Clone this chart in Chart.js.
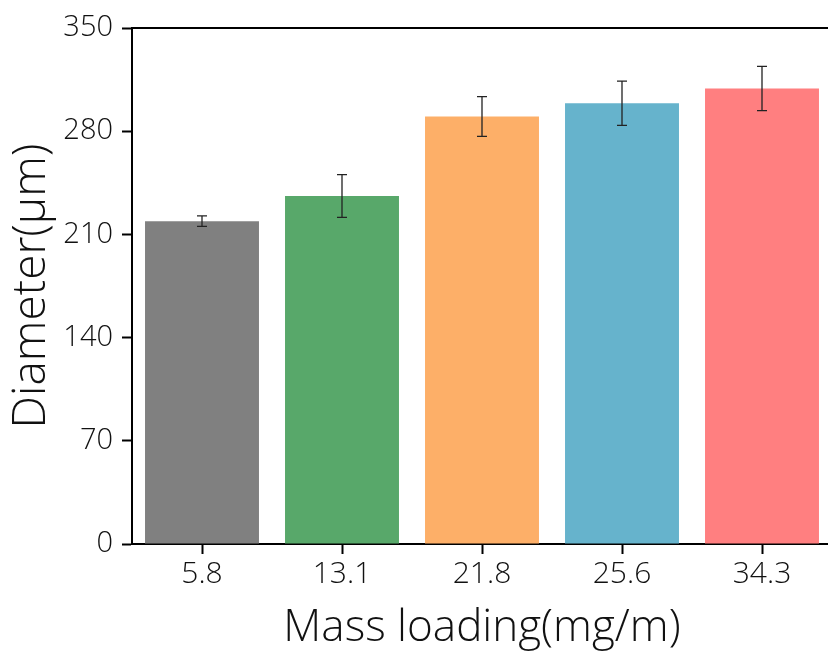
<!DOCTYPE html>
<html>
<head>
<meta charset="utf-8">
<script src="https://cdn.jsdelivr.net/npm/chart.js@4/dist/chart.umd.min.js"></script>
<style>
    html, body { margin: 0; padding: 0; background: #fff; overflow: hidden; }
    #wrap { width: 840px; height: 655px; }
</style>
</head>
<body>
<div id="wrap"><canvas id="diameter-chart"></canvas></div>
<script>
// Diamètre des fibres selon la charge massique
const massLoading = ['5.8', '13.1', '21.8', '25.6', '34.3'];
const diameter = [219, 236, 290, 299, 309];
const diameterErr = [3.5, 14.5, 13.5, 15, 15];
const barColors = ['#808080', '#58A86A', '#FDAF68', '#66B3CC', '#FF7F80'];
const yTicks = [0, 70, 140, 210, 280, 350];

const fontFamily = '"Open Sans", sans-serif';

// Barres d'erreur dessinées à partir des échelles du graphique
const errorBars = {
    id: 'errorBars',
    afterDatasetsDraw(chart) {
        const ctx = chart.ctx;
        const yScale = chart.scales.y;
        const meta = chart.getDatasetMeta(0);
        ctx.save();
        ctx.strokeStyle = '#222222';
        ctx.lineWidth = 1.3;
        meta.data.forEach((bar, i) => {
            const x = bar.x;
            const yHaut = yScale.getPixelForValue(diameter[i] + diameterErr[i]);
            const yBas = yScale.getPixelForValue(diameter[i] - diameterErr[i]);
            ctx.beginPath();
            ctx.moveTo(x, yHaut);
            ctx.lineTo(x, yBas);
            ctx.moveTo(x - 5, yHaut);
            ctx.lineTo(x + 5, yHaut);
            ctx.moveTo(x - 5, yBas);
            ctx.lineTo(x + 5, yBas);
            ctx.stroke();
        });
        ctx.restore();
    }
};

const ctx = document.getElementById('diameter-chart').getContext('2d');
new Chart(ctx, {
    type: 'bar',
    data: {
        labels: massLoading,
        datasets: [{
            data: diameter,
            backgroundColor: barColors,
            borderWidth: 0,
            barPercentage: 0.814,
            categoryPercentage: 1
        }]
    },
    options: {
        responsive: true,
        maintainAspectRatio: false,
        animation: false,
        layout: { padding: { top: 28, left: 4, right: 8, bottom: 0 } },
        plugins: {
            legend: { display: false },
            tooltip: { enabled: false }
        },
        scales: {
            x: {
                position: 'bottom',
                offset: true,
                border: { display: true, color: '#000', width: 2 },
                grid: {
                    offset: false,
                    drawOnChartArea: false,
                    drawTicks: true,
                    tickLength: 10,
                    tickWidth: 2,
                    tickColor: '#000'
                },
                ticks: {
                    color: '#111',
                    padding: 2,
                    font: { family: fontFamily, size: 30, weight: 300 }
                },
                title: {
                    display: true,
                    text: 'Mass loading(mg/m)',
                    color: '#111',
                    padding: { top: 0, bottom: 0 },
                    font: { family: fontFamily, size: 44, weight: 300 }
                },
                afterFit(scale) { scale.height = 655 - 544; }
            },
            top: {
                position: 'top',
                border: { display: true, color: '#000', width: 2 },
                grid: { display: false, drawTicks: false },
                ticks: { display: false },
                afterFit(scale) { scale.height = 0; }
            },
            y: {
                min: 0,
                max: 350,
                border: { display: true, color: '#000', width: 2 },
                grid: {
                    drawOnChartArea: false,
                    drawTicks: true,
                    tickLength: 10,
                    tickWidth: 2,
                    tickColor: '#000'
                },
                afterBuildTicks(scale) {
                    scale.ticks = yTicks.map(v => ({ value: v }));
                },
                ticks: {
                    color: '#111',
                    padding: 9,
                    font: { family: fontFamily, size: 29, weight: 300 }
                },
                title: {
                    display: true,
                    text: 'Diameter(μm)',
                    color: '#111',
                    padding: { top: 0, bottom: 0 },
                    font: { family: fontFamily, size: 46, weight: 300 }
                },
                afterFit(scale) { scale.width = 132 - 4; }
            }
        }
    },
    plugins: [errorBars]
});
</script>
</body>
</html>
